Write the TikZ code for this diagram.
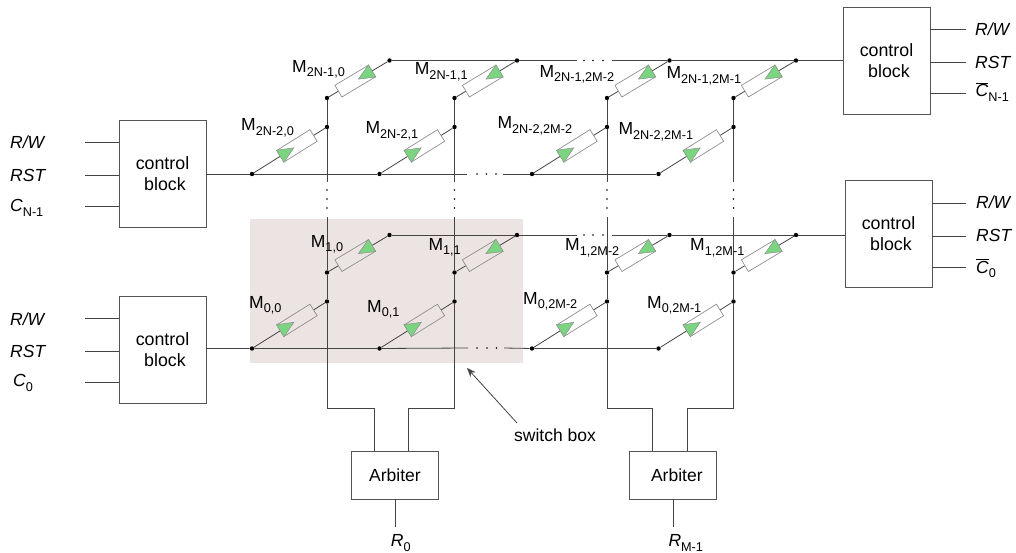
\documentclass[tikz,border=0pt]{standalone}
\usepackage{fontspec}
\setmainfont{Liberation Sans}
\usetikzlibrary{calc,arrows.meta}
\definecolor{wirec}{HTML}{444444}
\definecolor{boxc}{HTML}{555555}
\definecolor{devc}{HTML}{8E8E8E}
\definecolor{pinkc}{HTML}{EBE4E3}
\definecolor{greenc}{HTML}{7BD47F}
\newcommand\subt[1]{\raisebox{-4.5pt}{\fontsize{12.7}{13}\selectfont\upshape #1}}
\newcommand\barC{$\overline{\hbox{\itshape C}}$}
\tikzset{
  wire/.style={draw=wirec,line width=0.8pt},
  ctrl/.style={draw=boxc,line width=0.9pt,minimum width=87pt,minimum height=107pt,inner sep=0pt,align=center,font=\fontsize{17.8}{21.7}\selectfont},
  arb/.style={draw=boxc,line width=0.9pt,minimum width=87pt,minimum height=48pt,inner sep=0pt,font=\fontsize{17.5}{21}\selectfont},
  pt/.style={circle,fill=black,inner sep=0pt,minimum size=4.4pt},
  devbox/.style={draw=devc,line width=0.7pt,minimum width=39pt,minimum height=13.6pt,inner sep=0pt,rotate=#1},
  tri/.style={draw=devc,line width=0.5pt,fill=greenc},
  txt/.style={anchor=base west,inner sep=0pt,font=\fontsize{17.5}{21}\selectfont},
  itxt/.style={txt,font=\fontsize{17.5}{21}\selectfont\itshape},
}
% #1 id, #2 column x, #3 y of the top wire
\newcommand\cellbox[3]{%
  \node[pt] (#1bl) at ({#2-75},{#3+113.5}) {};
  \node[pt] (#1br) at (#2,{#3+66.5}) {};
  \node[pt] (#1ul) at (#2,{#3+37.5}) {};
  \node[pt] (#1ur) at ({#2+62.5},#3) {};
  \node[devbox=32] (#1lo) at ($(#1bl)!0.6!(#1br)$) {};
  \node[devbox=31] (#1up) at ($(#1ul)!0.45!(#1ur)$) {};
  \draw[wire] (#1bl) -- (#1lo.west) (#1lo.east) -- (#1br);
  \draw[wire] (#1ul) -- (#1up.west) (#1up.east) -- (#1ur);
  \draw[tri] (#1lo.south west) -- (#1lo.north west) -- ($(#1lo.west)!16pt!(#1lo.east)$) -- cycle;
  \draw[tri] (#1up.south east) -- (#1up.north east) -- ($(#1up.east)!16pt!(#1up.west)$) -- cycle;
}
\begin{document}
\begin{tikzpicture}[x=1pt,y=-1pt]
\useasboundingbox (0,0) rectangle (1016,553);
\fill[pinkc] (250,219) rectangle (523,363);

\cellbox{ha}{327}{60.5}
\cellbox{hb}{454.5}{60.5}
\cellbox{hc}{607}{60.5}
\cellbox{hd}{733.5}{60.5}
\cellbox{la}{327}{235}
\cellbox{lb}{454.5}{235}
\cellbox{lc}{607}{235}
\cellbox{ld}{733.5}{235}

% control blocks
\node[ctrl] (cbTR) at (886.5,60.7) {control\\\hspace{5pt}block};
\node[ctrl] (cbLR) at (888.5,233.7) {control\\\hspace{5pt}block};
\node[ctrl] (cbUL) at (162.5,173.7) {control\\\hspace{5pt}block};
\node[ctrl] (cbLL) at (162.5,349.7) {control\\\hspace{5pt}block};

% arbiters
\node[arb] (arbA) at (395,475) {Arbiter};
\node[arb] (arbB) at (673.3,475) {\hspace{7pt}Arbiter};

% horizontal wires
\coordinate (g1a) at (577,60.5); \coordinate (g1b) at (612,60.5);
\coordinate (g2a) at (467,174);  \coordinate (g2b) at (503,174);
\coordinate (g3a) at (577,235);  \coordinate (g3b) at (612,235);
\coordinate (g4a) at (468,348);  \coordinate (g4b) at (504,348);
\draw[wire] (haur) -- (hbur) -- (g1a) (g1b) -- (hcur) -- (hdur) -- (cbTR.west |- hdur);
\draw[wire] (cbUL.east |- habl) -- (habl) -- (hbbl) -- (g2a) (g2b) -- (hcbl) -- (hdbl);
\draw[wire] (laur) -- (lbur) -- (g3a) (g3b) -- (lcur) -- (ldur) -- (cbLR.west |- ldur);
\draw[wire] (cbLL.east |- labl) -- (labl) -- (lbbl) -- (g4a) (g4b) -- (lcbl) -- (ldbl);

% vertical wires
\foreach \c/\x in {a/327,b/454.5,c/607,d/733.5}{
  \coordinate (ve\c) at (\x,182);
  \coordinate (vs\c) at (\x,217);
  \coordinate (vb\c) at (\x,408.5);
  \draw[wire] (h\c ul) -- (h\c br) -- (ve\c) (vs\c) -- (l\c ul) -- (l\c br) -- (vb\c);
  \foreach \y in {190,199,208}{\fill[black] (\x,\y) circle (0.85pt);}
}
\foreach \x/\y in {584/60.5,593/60.5,603/60.5,477/174,486.5/174,496/174,584/235,593/235,603/235,477/348,487/348,496.5/348}{
  \fill[black] (\x,\y) circle (0.85pt);
}

% to the arbiters
\coordinate (aA1) at (374,451); \coordinate (aA2) at (408,451);
\coordinate (aB1) at (652.5,451); \coordinate (aB2) at (687,451);
\draw[wire] (vba) -| (aA1);
\draw[wire] (vbb) -| (aA2);
\draw[wire] (vbc) -| (aB1);
\draw[wire] (vbd) -| (aB2);
\coordinate (rA) at (395,527); \coordinate (rB) at (673.3,527);
\draw[wire] (arbA.south) -- (rA);
\draw[wire] (arbB.south) -- (rB);

% stubs of the control blocks
\foreach \n/\a/\b/\c in {TR/29/62/93,LR/203/236/267}{
  \foreach \y [count=\i] in {\a,\b,\c}{
    \coordinate (s\n\i) at (966,\y);
    \draw[wire] (cb\n.east |- s\n\i) -- (s\n\i);
  }
}
\foreach \n/\a/\b/\c in {UL/142/175/206,LL/318.7/351/382}{
  \foreach \y [count=\i] in {\a,\b,\c}{
    \coordinate (s\n\i) at (85,\y);
    \draw[wire] (s\n\i) -- (cb\n.west |- s\n\i);
  }
}

% switch box
\node[txt] (swl) at (514,441) {switch box};
\coordinate (swt) at (467,368);
\coordinate (sws) at (517,423);
\draw[wire,-{Stealth[length=9pt,width=7pt]}] (sws) -- (swt);

% device labels
\node[txt] (m1) at (292,72.3) {M\subt{2N-1,0}};
\node[txt] (m2) at (414.7,75) {M\subt{2N-1,1}};
\node[txt] (m3) at (539.3,77.3) {M\subt{2N-1,2M-2}};
\node[txt] (m4) at (666.3,79) {M\subt{2N-1,2M-1}};
\node[txt] (m5) at (241,131) {M\subt{2N-2,0}};
\node[txt] (m6) at (365.3,134) {M\subt{2N-2,1}};
\node[txt] (m7) at (497.3,129) {M\subt{2N-2,2M-2}};
\node[txt] (m8) at (618.3,135) {M\subt{2N-2,2M-1}};
\node[txt] (m9) at (310.7,247.3) {M\subt{1,0}};
\node[txt] (m10) at (428.3,250) {M\subt{1,1}};
\node[txt] (m11) at (565,251) {M\subt{1,2M-2}};
\node[txt] (m12) at (690,251) {M\subt{1,2M-1}};
\node[txt] (m13) at (249,308) {M\subt{0,0}};
\node[txt] (m14) at (367,312) {M\subt{0,1}};
\node[txt] (m15) at (523,304) {M\subt{0,2M-2}};
\node[txt] (m16) at (647,308) {M\subt{0,2M-1}};

% signal labels
\node[itxt] (t1) at (975,36) {R/W};
\node[itxt] (t2) at (975,68.3) {RST};
\node[itxt] (t3) at (975.5,96.7) {\barC\subt{N-1}};
\node[itxt] (t4) at (976,209) {R/W};
\node[itxt] (t5) at (976,241.3) {RST};
\node[itxt] (t6) at (976,273) {\barC\subt{0}};
\node[itxt] (t7) at (10,149) {R/W};
\node[itxt] (t8) at (10,182) {RST};
\node[itxt] (t9) at (10,212) {C\subt{N-1}};
\node[itxt] (t10) at (10,325) {R/W};
\node[itxt] (t11) at (10,357.3) {RST};
\node[itxt] (t12) at (13,386.7) {C\subt{0}};
\node[itxt] (t13) at (390.7,546.5) {R\subt{0}};
\node[itxt] (t14) at (668.3,546.5) {R\subt{M-1}};
\end{tikzpicture}
\end{document}
